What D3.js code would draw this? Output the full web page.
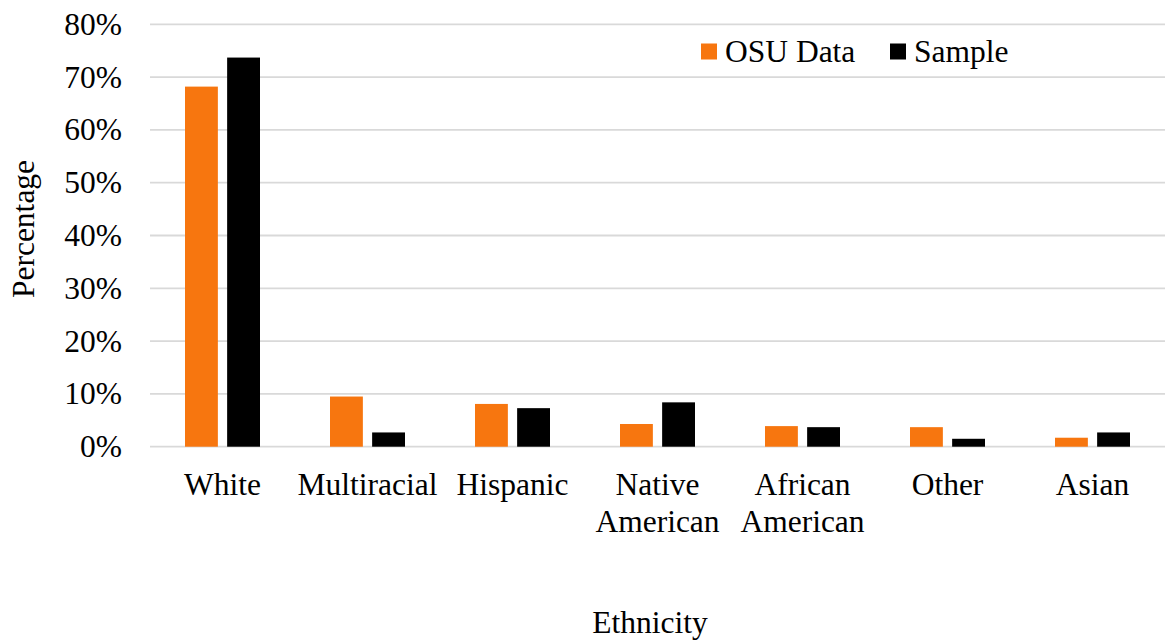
<!DOCTYPE html>
<html>
<head>
<meta charset="utf-8">
<script src="https://cdn.jsdelivr.net/npm/d3@7"></script>
<style>
  html, body { margin: 0; padding: 0; background: #fff; }
  svg { display: block; }
  text { font-family: "Liberation Serif", "Times New Roman", serif; fill: #000; }
</style>
</head>
<body>
<svg id="chart" width="1168" height="644"></svg>
<script>
// Ethnicity categories (label lines for the x axis)
const categories = [
  ["White"],
  ["Multiracial"],
  ["Hispanic"],
  ["Native", "American"],
  ["African", "American"],
  ["Other"],
  ["Asian"]
];
const seriesNames = ["OSU Data", "Sample"];
const osuData = [68.2, 9.5, 8.1, 4.3, 3.9, 3.7, 1.7];
const sampleData = [73.7, 2.7, 7.3, 8.4, 3.7, 1.5, 2.7];
const yTicks = [0, 10, 20, 30, 40, 50, 60, 70, 80];
const colors = ["#F7760F", "#000000"];

const svg = d3.select("#chart");
const plot = { left: 150, right: 1165, top: 24.3, bottom: 446.7 };
const fontSize = 31.5;

const catKeys = categories.map(c => c.join(" "));
const x0 = d3.scaleBand().domain(catKeys).range([plot.left, plot.right]);
const half = x0.bandwidth() / 2;
const x1 = d3.scaleBand().domain(seriesNames)
  .range([half - 37.5, half + 37.5]).paddingInner(0.22);
const y = d3.scaleLinear().domain([0, 80]).range([plot.bottom, plot.top]);

// Horizontal gridlines (the 0% line doubles as the baseline)
svg.append("g").selectAll("line").data(yTicks).join("line")
  .attr("x1", plot.left).attr("x2", plot.right)
  .attr("y1", d => y(d)).attr("y2", d => y(d))
  .attr("stroke", "#d9d9d9").attr("stroke-width", 1.8);

// Y axis tick labels
const yAxis = d3.axisLeft(y).tickValues(yTicks).tickFormat(d => d + "%").tickSize(0).tickPadding(0);
const yg = svg.append("g").attr("transform", `translate(122,0)`).call(yAxis);
yg.select(".domain").remove();
yg.attr("font-family", null);
yg.selectAll("text").attr("font-size", fontSize)
  .attr("fill", "#000").attr("dy", "0.32em");

// Bars
const rows = catKeys.map((k, i) => ({ key: k, values: [osuData[i], sampleData[i]] }));
const groups = svg.append("g").selectAll("g").data(rows).join("g")
  .attr("transform", d => `translate(${x0(d.key)},0)`);
groups.selectAll("rect")
  .data(d => d.values.map((v, j) => ({ series: seriesNames[j], value: v, j })))
  .join("rect")
  .attr("x", d => x1(d.series))
  .attr("width", x1.bandwidth())
  .attr("y", d => y(d.value))
  .attr("height", d => y(0) - y(d.value))
  .attr("fill", d => colors[d.j]);

// X axis category labels
const xAxis = d3.axisBottom(x0).tickSize(0).tickPadding(0).tickFormat("");
const xg = svg.append("g").attr("transform", `translate(0,${plot.bottom})`).call(xAxis);
xg.select(".domain").remove();
xg.attr("font-family", null);
xg.selectAll(".tick").each(function(d, i) {
  const t = d3.select(this).append("text")
    .attr("text-anchor", "middle").attr("font-size", fontSize)
    .attr("fill", "#000");
  categories[i].forEach((line, li) => {
    t.append("tspan").attr("x", 0).attr("y", 48.5 + li * 36.5).text(line);
  });
});

// Axis titles
svg.append("text").attr("x", 650).attr("y", 633)
  .attr("text-anchor", "middle").attr("font-size", fontSize).text("Ethnicity");
svg.append("text")
  .attr("transform", "translate(34,229) rotate(-90)")
  .attr("text-anchor", "middle").attr("font-size", fontSize).text("Percentage");

// Legend
const legendX = [701, 890];
const legend = svg.append("g").selectAll("g").data(seriesNames).join("g")
  .attr("transform", (d, i) => `translate(${legendX[i]},43.5)`);
legend.append("rect").attr("width", 16).attr("height", 16)
  .attr("fill", (d, i) => colors[i]);
legend.append("text").attr("x", 24).attr("y", 18).attr("font-size", fontSize).text(d => d);
</script>
</body>
</html>
